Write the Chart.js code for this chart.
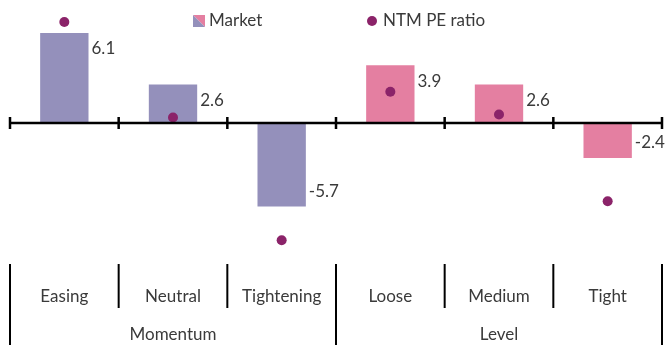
<!DOCTYPE html>
<html>
<head>
<meta charset="utf-8">
<script src="https://cdn.jsdelivr.net/npm/chart.js@4.4.0/dist/chart.umd.min.js"></script>
<style>
  html, body { margin: 0; padding: 0; background: #fff; }
  #wrap { width: 667px; height: 345px; position: relative; }
</style>
</head>
<body>
<div id="wrap"><canvas id="myChart"></canvas></div>
<script>
var categories = ['Easing', 'Neutral', 'Tightening', 'Loose', 'Medium', 'Tight'];
var groups = ['Momentum', 'Level'];
var groupSizes = [3, 3];
var marketValues = [6.1, 2.6, -5.7, 3.9, 2.6, -2.4];
var peValues = [6.85, 0.35, -8.0, 2.1, 0.55, -5.35];

var purple = '#9490bb';
var pink = '#e47fa1';
var dotColor = '#8b2369';
var textColor = '#3a3a3a';
var fontFamily = 'Lato, "Open Sans", sans-serif';

var barColors = categories.map(function (c, i) { return i < groupSizes[0] ? purple : pink; });

// legend swatch: square split along the diagonal
function swatch() {
  var c = document.createElement('canvas');
  c.width = 12; c.height = 12;
  var g = c.getContext('2d');
  g.fillStyle = pink;
  g.beginPath(); g.moveTo(0, 0); g.lineTo(12, 0); g.lineTo(12, 12); g.closePath(); g.fill();
  g.fillStyle = purple;
  g.beginPath(); g.moveTo(0, 0); g.lineTo(0, 12); g.lineTo(12, 12); g.closePath(); g.fill();
  return c;
}

var decorations = {
  id: 'decorations',
  afterDatasetsDraw: function (chart) {
    var ctx = chart.ctx;
    var xs = chart.scales.x;
    var ys = chart.scales.y;
    var step = xs.getPixelForValue(1) - xs.getPixelForValue(0);
    var edge = function (i) { return xs.getPixelForValue(0) - step / 2 + i * step; };
    var y0 = Math.round(ys.getPixelForValue(0));

    ctx.save();
    ctx.strokeStyle = '#000';

    // zero line with crossing ticks
    ctx.lineWidth = 2.5;
    ctx.beginPath();
    ctx.moveTo(edge(0), y0);
    ctx.lineTo(edge(categories.length), y0);
    for (var i = 0; i <= categories.length; i++) {
      var ex = Math.min(edge(i), chart.width - 1.5);
      ctx.moveTo(ex, y0 - 6);
      ctx.lineTo(ex, y0 + 6);
    }
    ctx.stroke();

    // value labels beside the bars
    ctx.fillStyle = textColor;
    ctx.font = '17px ' + fontFamily;
    ctx.textAlign = 'left';
    ctx.textBaseline = 'middle';
    chart.getDatasetMeta(0).data.forEach(function (bar, i) {
      var v = marketValues[i];
      var ty = v >= 0 ? bar.y + 16 : bar.y - 15;
      ctx.fillText(v.toFixed(1), bar.x + bar.width / 2 + 3, ty);
    });

    // category table underneath
    var groupEdges = [0];
    groupSizes.forEach(function (n) { groupEdges.push(groupEdges[groupEdges.length - 1] + n); });
    ctx.lineWidth = 2;
    ctx.beginPath();
    for (var j = 0; j <= categories.length; j++) {
      var tall = groupEdges.indexOf(j) >= 0;
      var sx = Math.min(edge(j), chart.width - 3);
      ctx.moveTo(sx, 264);
      ctx.lineTo(sx, tall ? 345 : 308);
    }
    ctx.stroke();

    ctx.textAlign = 'center';
    categories.forEach(function (c, k) {
      ctx.fillText(c, xs.getPixelForValue(k), 297);
    });
    groups.forEach(function (g, k) {
      ctx.fillText(g, (edge(groupEdges[k]) + edge(groupEdges[k + 1])) / 2, 335);
    });

    // legend
    var ly = 21;
    ctx.textAlign = 'left';
    ctx.drawImage(swatch(), 193, ly - 6);
    ctx.fillText(chart.data.datasets[0].label, 209, ly);
    ctx.fillStyle = dotColor;
    ctx.beginPath();
    ctx.arc(372, ly, 5, 0, Math.PI * 2);
    ctx.fill();
    ctx.fillStyle = textColor;
    ctx.fillText(chart.data.datasets[1].label, 383, ly);

    ctx.restore();
  }
};

var ctx = document.getElementById('myChart').getContext('2d');
var myChart = new Chart(ctx, {
  data: {
    labels: categories,
    datasets: [{
      type: 'bar',
      label: 'Market',
      data: marketValues,
      backgroundColor: barColors,
      borderWidth: 0,
      barPercentage: 0.445,
      categoryPercentage: 1,
      order: 2
    }, {
      type: 'line',
      label: 'NTM PE ratio',
      data: peValues,
      showLine: false,
      pointRadius: 5,
      pointHoverRadius: 5,
      pointBackgroundColor: dotColor,
      pointBorderWidth: 0,
      order: 1
    }]
  },
  options: {
    responsive: true,
    maintainAspectRatio: false,
    animation: false,
    layout: { padding: { left: 10, right: 0, top: 3, bottom: 90 } },
    scales: {
      x: { display: false, offset: true },
      y: { display: false, min: -9, max: 8 }
    },
    plugins: {
      legend: { display: false },
      tooltip: { enabled: false }
    }
  },
  plugins: [decorations]
});
</script>
</body>
</html>
